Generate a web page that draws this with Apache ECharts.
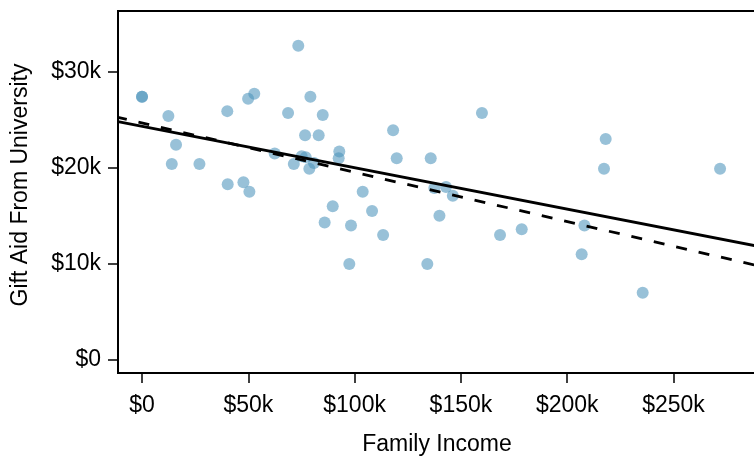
<!DOCTYPE html>
<html>
<head>
<meta charset="utf-8">
<script src="https://cdn.jsdelivr.net/npm/echarts@6/dist/echarts.min.js"></script>
<style>html,body{margin:0;padding:0;background:#fff}#c{width:754px;height:456px}</style>
</head>
<body>
<div id="c"></div>
<script>
// Family income (thousands of $)
var familyIncome = [0, 0, 12.4, 16, 14, 27, 40.1, 40.3, 47.7, 50.5, 49.9, 52.8, 68.7, 73.5, 79.2, 85, 76.7, 83.1, 62.4, 75.1, 77, 71.4, 78.7, 80.9, 92.8, 92.5, 103.8, 118.1, 119.8, 135.8, 159.9, 137.5, 143, 146.2, 89.7, 85.9, 98.3, 108.2, 113.4, 97.5, 139.9, 134.2, 168.4, 178.6, 218.1, 217.3, 271.9, 208.1, 206.8, 235.5];
// Gift aid from university (thousands of $)
var giftAid = [27.4, 27.4, 25.4, 22.4, 20.4, 20.4, 25.9, 18.3, 18.5, 17.5, 27.2, 27.7, 25.7, 32.7, 27.4, 25.5, 23.4, 23.4, 21.5, 21.2, 21.1, 20.4, 19.9, 20.5, 21.7, 21.0, 17.5, 23.9, 21.0, 21.0, 25.7, 17.9, 18.0, 17.1, 16.0, 14.3, 14.0, 15.5, 13.0, 10.0, 15.0, 10.0, 13.0, 13.6, 23.0, 19.9, 19.9, 14.0, 11.0, 7.0];
// Fitted lines (endpoints)
var solidLineX = [-11.3, 288.8];
var solidLineY = [24.81, 11.87];
var dashedLineX = [-11.3, 288.8];
var dashedLineY = [25.25, 9.85];
// Ticks
var xTickValues = [0, 50, 100, 150, 200, 250];
var xTickLabels = ['$0', '$50k', '$100k', '$150k', '$200k', '$250k'];
var yTickValues = [0, 10, 20, 30];
var yTickLabels = ['$0', '$10k', '$20k', '$30k'];

function zip(a, b) { return a.map(function (v, i) { return [v, b[i]]; }); }
function lab(vals, labs) { return function (v) { var i = vals.indexOf(v); return i >= 0 ? labs[i] : ''; }; }

var font = '"Liberation Sans", Arial, Helvetica, sans-serif';
var chart = echarts.init(document.getElementById('c'), null, { renderer: 'canvas' });
chart.setOption({
  animation: false,
  backgroundColor: '#fff',
  grid: { left: 118, top: 11, right: -2, bottom: 83, containLabel: false, outerBoundsMode: 'none', show: true, borderColor: '#000', borderWidth: 2, backgroundColor: 'transparent' },
  xAxis: {
    type: 'value', min: -11.3, max: 288.8,
    name: 'Family Income', nameLocation: 'middle', nameGap: 60,
    nameTextStyle: { fontFamily: font, fontSize: 23, color: '#000' },
    axisLine: { show: false, onZero: false }, splitLine: { show: false },
    axisTick: { show: true, inside: false, length: 10, customValues: xTickValues, lineStyle: { color: '#000', width: 1.5 } },
    axisLabel: { show: true, customValues: xTickValues, formatter: lab(xTickValues, xTickLabels), margin: 21, fontFamily: font, fontSize: 23, color: '#000' }
  },
  yAxis: {
    type: 'value', min: -1.353, max: 36.32,
    name: 'Gift Aid From University', nameLocation: 'middle', nameGap: 86,
    nameTextStyle: { fontFamily: font, fontSize: 23, color: '#000', padding: [0, 0, 0, 14] },
    axisLine: { show: false, onZero: false }, splitLine: { show: false },
    axisTick: { show: true, inside: false, length: 10, customValues: yTickValues, lineStyle: { color: '#000', width: 1.5 } },
    axisLabel: { show: true, customValues: yTickValues, formatter: lab(yTickValues, yTickLabels), margin: 17, fontFamily: font, fontSize: 23, color: '#000' }
  },
  series: [
    {
      type: 'scatter', data: zip(familyIncome, giftAid), symbolSize: 12,
      itemStyle: { color: 'rgba(76,148,188,0.72)' }, z: 2
    },
    {
      type: 'line', data: zip(dashedLineX, dashedLineY), symbol: 'none',
      lineStyle: { color: '#000', width: 2.8, type: [11, 12], dashOffset: 2 }, z: 3
    },
    {
      type: 'line', data: zip(solidLineX, solidLineY), symbol: 'none',
      lineStyle: { color: '#000', width: 2.8, type: 'solid' }, z: 4
    }
  ]
});
</script>
</body>
</html>
